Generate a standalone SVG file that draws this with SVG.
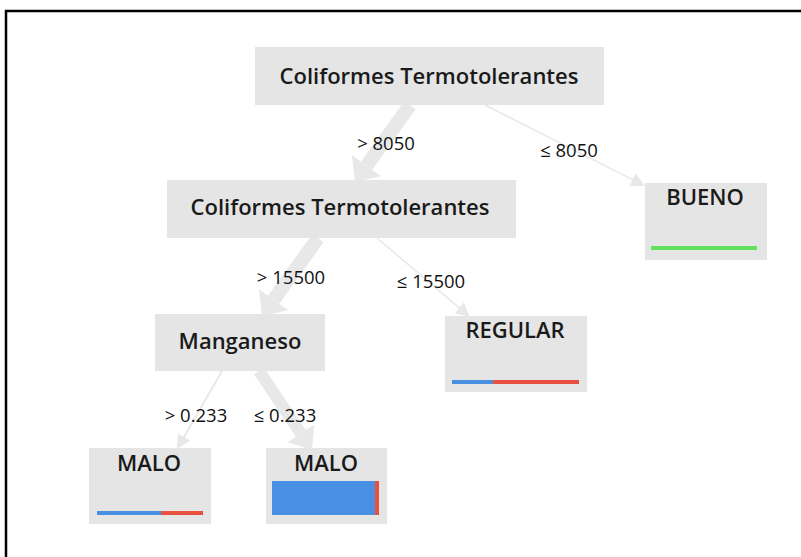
<svg xmlns="http://www.w3.org/2000/svg" width="801" height="557" viewBox="0 0 801 557">
<style>
.node{fill:#e5e5e5}
.t{font-family:"Open Sans","Noto Sans","Liberation Sans",sans-serif;font-size:22px;font-weight:600;fill:#1a1a1a;text-anchor:middle}
.lbl{font-family:"Open Sans","Noto Sans","Liberation Sans",sans-serif;font-size:18.5px;fill:#111;text-anchor:middle}
.e{stroke:#e8e8e8;fill:none}
.h{fill:#e8e8e8}
.blue{fill:#4a90e2}
.red{fill:#e8503f}
.green{fill:#5ee35a}
</style>
<rect x="0" y="0" width="801" height="557" fill="#fff"/>
<path d="M6,557 V11 H801" fill="none" stroke="#000" stroke-width="2.5"/>
<g id="connectors">
<line class="e" x1="410" y1="105" x2="366.6" y2="165.7" stroke-width="14"/>
<polygon class="h" points="355,182 381.3,176.2 351.9,155.2"/>
<line class="e" x1="485" y1="105" x2="632.5" y2="179.7" stroke-width="1.5"/>
<polygon class="h" points="645,186 629.3,185.9 635.7,173.5"/>
<line class="e" x1="318" y1="238" x2="273.7" y2="299.75" stroke-width="14"/>
<polygon class="h" points="262,316 288.3,310.2 259.1,289.3"/>
<line class="e" x1="377" y1="238" x2="459.3" y2="307.9" stroke-width="1.5"/>
<polygon class="h" points="470,317 454.8,313.2 463.8,302.6"/>
<line class="e" x1="222" y1="371" x2="184" y2="436.9" stroke-width="2"/>
<polygon class="h" points="177,449 190.1,440.4 177.9,433.4"/>
<line class="e" x1="259" y1="371" x2="300.9" y2="433.4" stroke-width="12"/>
<polygon class="h" points="312,450 314.2,424.5 287.6,442.3"/>
<text class="lbl" x="386" y="150">&gt; 8050</text>
<text class="lbl" x="569" y="157">≤ 8050</text>
<text class="lbl" x="291" y="284">&gt; 15500</text>
<text class="lbl" x="431" y="288">≤ 15500</text>
<text class="lbl" x="196" y="422">&gt; 0.233</text>
<text class="lbl" x="285" y="422">≤ 0.233</text>
</g>
<g id="root">
<rect class="node" x="255" y="47" width="349" height="58"/>
<text class="t" x="429" y="84">Coliformes Termotolerantes</text>
</g>
<g id="coliformes2">
<rect class="node" x="167" y="180" width="349" height="58"/>
<text class="t" x="340" y="215">Coliformes Termotolerantes</text>
</g>
<g id="bueno">
<rect class="node" x="645" y="183" width="122" height="77"/>
<text class="t" x="705" y="205">BUENO</text>
<rect class="green" x="651" y="246" width="106" height="4"/>
</g>
<g id="manganeso">
<rect class="node" x="155" y="314" width="170" height="57"/>
<text class="t" x="240" y="349">Manganeso</text>
</g>
<g id="regular">
<rect class="node" x="445" y="316" width="142" height="76"/>
<text class="t" x="515" y="338">REGULAR</text>
<rect class="blue" x="452" y="380" width="41" height="4"/>
<rect class="red" x="493" y="380" width="86" height="4"/>
</g>
<g id="malo1">
<rect class="node" x="89" y="448" width="122" height="76"/>
<text class="t" x="149" y="471">MALO</text>
<rect class="blue" x="97" y="511" width="64" height="4"/>
<rect class="red" x="161" y="511" width="42" height="4"/>
</g>
<g id="malo2">
<rect class="node" x="266" y="448" width="121" height="76"/>
<text class="t" x="326" y="471">MALO</text>
<rect class="blue" x="272" y="481" width="103" height="34"/>
<rect class="red" x="375" y="481" width="4" height="34"/>
</g>
</svg>
